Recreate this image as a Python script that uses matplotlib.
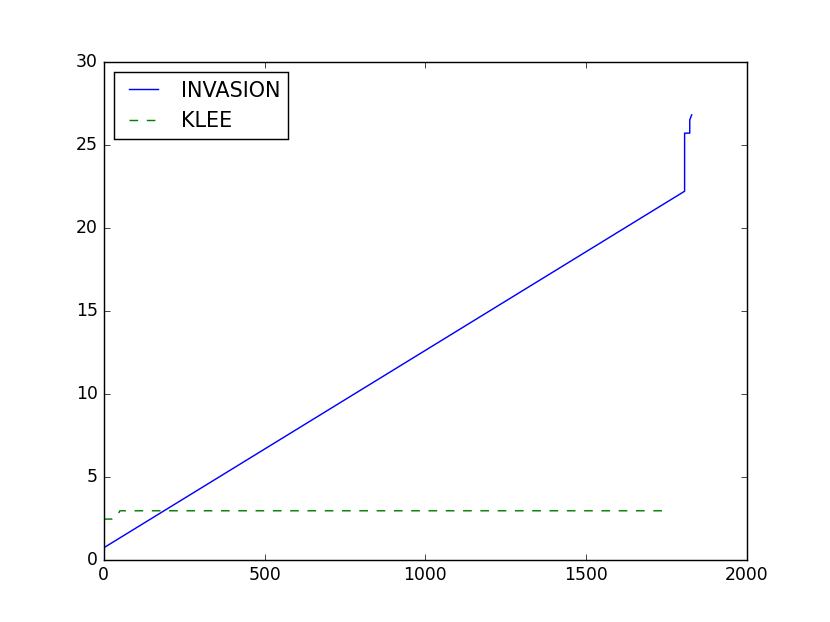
import matplotlib
matplotlib.use('Agg')
import matplotlib.pyplot as plt

plt.style.use('classic')

# INVASION curve (time vs. value)
invasion_x = [0, 1806, 1806, 1822, 1822, 1828]
invasion_y = [0.72, 22.2, 25.7, 25.7, 26.5, 26.8]

# KLEE curve
klee_x = [0, 25, 45, 50, 1757]
klee_y = [2.45, 2.45, 2.75, 2.95, 2.95]

fig, ax = plt.subplots(figsize=(8, 6))
ax.plot(invasion_x, invasion_y, 'b-', label='INVASION')
ax.plot(klee_x, klee_y, 'g--', label='KLEE')

ax.set_xlim(0, 2000)
ax.set_ylim(0, 30)
ax.legend(loc='upper left')

plt.savefig('out.png', dpi=103.75)
